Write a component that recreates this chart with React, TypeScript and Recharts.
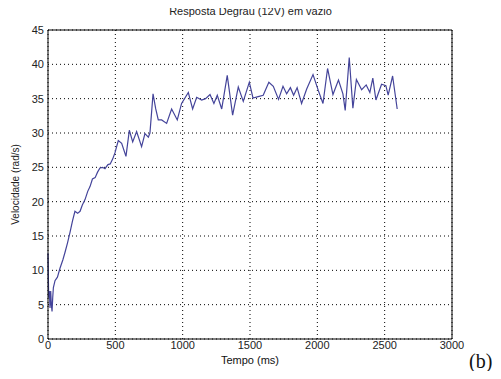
import React from 'react';
import { LineChart, Line, XAxis, YAxis, CartesianGrid, ReferenceLine } from 'recharts';

// tempo (ms) e velocidade (rad/s)
const tempo = [
    0, 5, 10, 15, 20, 25, 30, 35, 40, 52, 70, 89, 110, 126, 145, 163, 182, 200, 220, 238,
    255, 275, 295, 312, 330, 350, 368, 386, 405, 423, 445, 462, 480, 497, 522, 547, 579, 604, 629, 658,
    695, 720, 745, 757, 780, 800, 819, 844, 881, 918, 960, 992, 1042, 1074, 1104, 1141, 1170, 1203, 1232, 1257,
    1290, 1331, 1371, 1413, 1450, 1495, 1522, 1561, 1598, 1640, 1673, 1712, 1745, 1772, 1800, 1824, 1850, 1883, 1921, 1968,
    2007, 2042, 2076, 2116, 2157, 2190, 2207, 2237, 2264, 2290, 2329, 2363, 2390, 2412, 2435, 2477, 2509, 2526, 2559, 2593,
];
const velocidade = [
    12.5, 6, 7, 4.5, 7, 5, 4, 6, 7.5, 8.5, 9, 10.3, 11.5, 12.6, 14, 15.5, 17.2, 18.6, 18.3, 18.6,
    19.5, 20.3, 21.5, 22.2, 23.3, 23.5, 24.3, 24.9, 25, 24.8, 25.4, 25.5, 26.2, 27.1, 28.9, 28.5, 26.6, 30.4, 28.7, 30.2,
    28, 29.9, 29.4, 30, 35.7, 33.5, 31.9, 31.9, 31.4, 33.5, 31.9, 34.3, 35.9, 33.5, 35.2, 34.8, 35, 35.6, 34.3, 35.5,
    33.5, 38.4, 32.6, 36.7, 34.6, 37.4, 35.1, 35.3, 35.5, 37.4, 36.8, 34.9, 36.8, 35.7, 36.6, 35.5, 36.6, 34.3, 36.4, 38.5,
    36.2, 34.3, 39.4, 35.6, 37.7, 35.7, 33.3, 41, 33.6, 37.8, 36.3, 37, 35.9, 38, 34.8, 37.1, 36.9, 35.5, 38.3, 33.5,
];
const xTicks = [0, 500, 1000, 1500, 2000, 2500, 3000];
const yTicks = [0, 5, 10, 15, 20, 25, 30, 35, 40, 45];

const data = tempo.map((t, i) => ({ t, v: velocidade[i] }));

const font = '"Liberation Sans", Arial, sans-serif';
const serif = '"Liberation Serif", "DejaVu Serif", serif';
const tickStyle = { fill: '#222', fontSize: 11, fontFamily: font };

export default function App() {
    return (
        <div style={{ position: 'relative', width: 485, height: 363, background: '#fff' }}>
            <div style={{ position: 'absolute', left: 0, top: -3, width: 485, textAlign: 'center', fontFamily: font, fontSize: 11, color: '#222' }}>
                Resposta Degrau (12V) em vazio
            </div>
            <LineChart width={485} height={363} data={data} margin={{ top: 22, right: 41, bottom: 12, left: 0 }}>
                <CartesianGrid stroke="#000" strokeDasharray="1 3" strokeWidth={1} horizontalValues={yTicks} verticalValues={xTicks} />
                <XAxis
                    dataKey="t"
                    type="number"
                    domain={[0, 3000]}
                    ticks={xTicks}
                    interval={0}
                    height={20}
                    tick={tickStyle}
                    tickLine={false}
                    tickSize={0}
                    tickMargin={2}
                    axisLine={{ stroke: '#000' }}
                    label={{ value: 'Tempo (ms)', position: 'insideBottom', offset: -5, style: { fill: '#111', fontSize: 11, fontFamily: font } }}
                />
                <YAxis
                    type="number"
                    domain={[0, 45]}
                    ticks={yTicks}
                    interval={0}
                    width={40}
                    tick={tickStyle}
                    tickLine={false}
                    tickSize={0}
                    tickMargin={4}
                    axisLine={{ stroke: '#000' }}
                    label={{ value: 'Velocidade (rad/s)', angle: -90, position: 'insideLeft', offset: 0, dx: 7, style: { fill: '#222', fontSize: 10, fontFamily: font, textAnchor: 'middle' } }}
                />
                <ReferenceLine x={3000} stroke="#000" />
                <ReferenceLine y={45} stroke="#000" />
                <Line
                    type="linear"
                    dataKey="v"
                    stroke="#44449a"
                    strokeWidth={1.2}
                    dot={false}
                    isAnimationActive={false}
                />
            </LineChart>
            <div style={{ position: 'absolute', left: 461, top: 343, fontFamily: serif, fontSize: 20, lineHeight: '20px', color: '#111' }}>(b)</div>
        </div>
    );
}
